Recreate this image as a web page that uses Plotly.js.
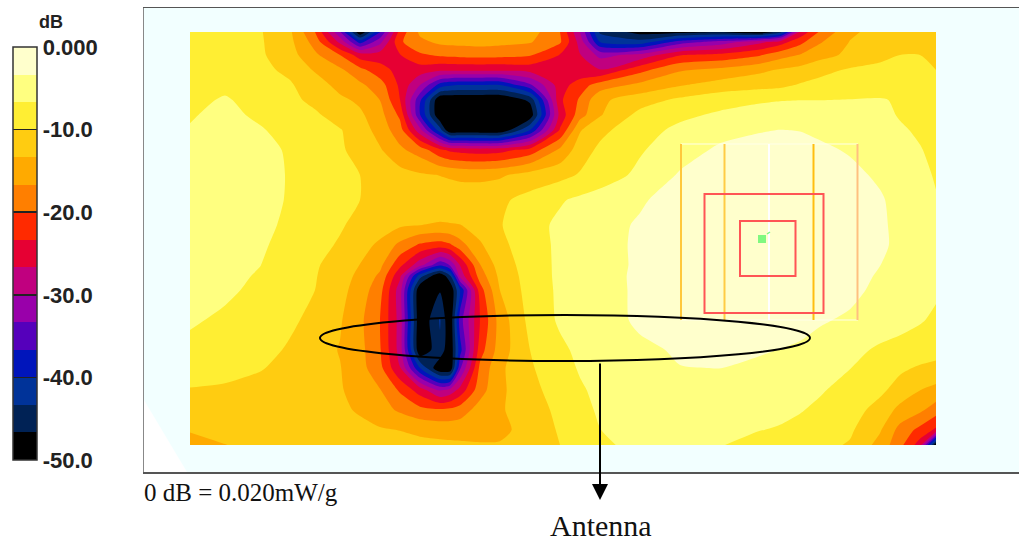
<!DOCTYPE html>
<html>
<head>
<meta charset="utf-8">
<script src="https://cdn.plot.ly/plotly-3.0.1.min.js"></script>
<style>html,body{margin:0;padding:0;background:#fff}#chart{width:1019px;height:542px}</style>
</head>
<body>
<div id="chart"></div>
<script>
// Scan positions along the horizontal and vertical directions
const scanX = [190,225,260,290,315,340,360,380,400,420,440,450,460,480,500,530,560,580,600,640,680,720,760,780,800,820,850,880,900,920,936];
const scanY = [32,42,55,70,85,100,115,130,150,175,200,225,245,265,276,290,320,350,368,390,410,430,445];

// Field values in dB, one list per scan row
const row32  = [-8,-8.5,-9.7,-12.8,-20,-33,-50,-37,-22,-16,-15,-14.7,-14.5,-14,-14.5,-15,-20,-30,-44,-48,-48,-47,-50,-45,-26,-19.5,-14,-12,-11.5,-11.5,-12];
const row42  = [-8,-8.5,-9.6,-12.5,-18,-27.5,-38,-31,-20.5,-17.5,-16,-15.8,-15.7,-15.5,-15.8,-16.4,-19.5,-28,-40,-42,-35,-32,-27.5,-25,-21,-17,-13.2,-11.8,-11,-11,-11.5];
const row55  = [-8.2,-8.6,-9.5,-12,-16,-20,-25,-25,-23.5,-20.5,-19.5,-19.2,-19,-18.8,-19,-19.7,-23.5,-26.5,-31,-29,-23.5,-22.5,-20.3,-18,-16.5,-14.5,-12.6,-10.8,-10,-10,-10.4];
const row70  = [-8.3,-8.6,-9.3,-10.6,-13.7,-16,-19,-22,-24.5,-25,-26,-26,-26,-26,-26,-25.5,-25,-26,-26.5,-21,-17,-15.8,-14,-13,-12.2,-11,-9.6,-9.2,-9.2,-9.7,-10];
const row85  = [-7.8,-7.5,-8.8,-9.7,-11.6,-14.5,-16,-18.5,-24,-30,-38,-39.5,-40,-40,-40,-34,-25,-21.5,-18.5,-15.8,-13.6,-12,-11.2,-10.8,-9.7,-8.9,-8,-7.8,-8,-8.6,-9.2];
const row100 = [-7.6,-6.3,-8,-9.2,-10.8,-12.6,-14,-16.7,-23.3,-36,-50,-50,-50,-50,-50,-46,-24,-19.5,-14,-11.5,-9.3,-7.8,-7,-6.8,-6.7,-6.7,-6.6,-6.5,-6.9,-7.7,-8.4];
const row115 = [-7,-5.6,-7.4,-8.7,-9.5,-11.4,-12.7,-15.5,-20.7,-36.5,-50,-50,-50,-50,-50,-49,-25.5,-18,-13.6,-9,-7.3,-6.2,-5.6,-5.2,-5,-5.1,-5.5,-5.8,-6.9,-7.8,-8.4];
const row130 = [-6.4,-5.1,-6.3,-8.1,-8.9,-9.8,-11.6,-14.7,-18.6,-29,-42,-50,-50,-50,-50,-40,-23,-13.6,-10.9,-7.8,-6,-4.4,-3.5,-3.3,-3.4,-3.9,-4.8,-5.5,-6.3,-7.1,-7.8];
const row150 = [-6,-4.8,-5.8,-7,-8.2,-9.6,-11,-13,-16,-18.2,-22.5,-24,-24.5,-25,-24.5,-22,-16,-11.6,-9.3,-7,-4.7,-2.8,-2.4,-2.3,-2.5,-2.8,-3.6,-4.9,-5.6,-6.5,-7.4];
const row175 = [-5.8,-4.6,-5.5,-6.9,-8,-9.2,-10,-11,-12,-12.9,-13.4,-13.7,-14,-14.2,-13.8,-12,-11,-9.7,-8.4,-5.9,-3,-2.2,-1.8,-1.7,-1.8,-2,-2.6,-3.8,-5,-6,-6.9];
const row200 = [-5.6,-4.5,-5.4,-7,-8.2,-9.2,-10,-10.7,-11.2,-11.4,-11.5,-11.5,-11.5,-11.2,-10.6,-8.9,-7,-6,-5.2,-3.7,-2,-1.2,-1,-1,-1,-1.2,-1.8,-3,-4.3,-5.6,-6.5];
const row225 = [-5.6,-4.6,-5.7,-7.4,-8.7,-9.7,-10.8,-11.7,-12.8,-13.3,-13.6,-13.5,-13.4,-11.7,-10.2,-7.9,-6,-5.2,-4.4,-3,-1.6,-0.9,-0.7,-0.7,-0.8,-1,-1.6,-2.9,-4,-5.4,-6.4];
const row245 = [-5.8,-5,-6.2,-7.8,-9.1,-10.3,-12,-14,-17.5,-20.5,-21.5,-20.5,-18,-13.8,-10.8,-8.2,-6,-5.2,-4.3,-2.9,-1.4,-0.7,-0.3,-0.5,-0.7,-1,-1.6,-2.8,-4,-5.2,-6];
const row265 = [-6,-5.5,-6.6,-8.5,-9.6,-11.5,-13.4,-15.8,-22.5,-28.8,-36,-33,-26.5,-16.8,-11.8,-8.4,-6,-5.2,-4.4,-2.9,-1.4,-0.7,-0.5,-0.6,-0.8,-1.1,-1.8,-3.3,-4.2,-5.2,-6];
const row276 = [-5.9,-5.7,-7,-8.7,-9.8,-11.9,-14.1,-17.3,-26,-42,-50,-44,-29,-18.5,-12.5,-8.5,-6,-5.2,-4.4,-2.8,-1.4,-0.8,-0.6,-0.7,-0.9,-1.3,-2.1,-3.7,-4.4,-5.3,-6.1];
const row290 = [-5.8,-6,-7.5,-8.9,-10,-12.3,-14.8,-18.8,-28.5,-50,-47,-50,-40,-21.5,-13.3,-8.6,-6.1,-5.3,-4.5,-2.8,-1.5,-0.9,-0.7,-0.8,-1.1,-1.5,-2.5,-4.1,-4.7,-5.4,-6.2];
const row320 = [-6.2,-7.3,-8.7,-9.4,-10.9,-13,-15.9,-20,-28,-50,-43,-50,-35,-23.3,-15.2,-9,-6.2,-5.4,-4.7,-2.8,-2,-1.5,-1.1,-1.4,-2,-3,-3.8,-4.7,-5.6,-6.4,-7.2];
const row350 = [-7.6,-8.1,-8.9,-10.4,-12,-13.5,-15.6,-19.7,-28,-50,-44,-50,-38,-21.5,-15,-10,-7.3,-6,-5.3,-3.9,-3,-2.7,-3,-3.4,-3.9,-4.5,-5.7,-7.2,-7.7,-8.2,-8.6];
const row368 = [-8.4,-9.1,-9.8,-10.9,-12.3,-13.2,-15.4,-19,-26.5,-40,-50,-50,-34,-19.2,-14,-10.4,-7.8,-6.4,-5.6,-4.5,-3.4,-3.3,-4,-4.4,-4.9,-5.4,-6.6,-8.5,-9.4,-10.4,-11];
const row390 = [-10.2,-10.4,-11,-11.5,-12.3,-13,-14.8,-16.5,-20.5,-25,-30.5,-29,-25.5,-18,-14,-11,-8.5,-7,-6,-5,-4.8,-4.8,-5.2,-5.6,-6,-6.4,-7.6,-9.3,-11.3,-13.3,-14.2];
const row410 = [-10.5,-11,-11.6,-12,-12.6,-12.9,-13.6,-15.3,-17.2,-19,-19.5,-19.2,-18.3,-15.3,-13.7,-11.6,-9.2,-7.7,-6.2,-5.4,-5.4,-5.4,-5.8,-6,-6.5,-7.2,-8.6,-11.2,-14.3,-16,-18.4];
const row430 = [-13.1,-12.3,-12,-12,-12.2,-12.4,-12.7,-13,-13.4,-14,-14.5,-14.6,-14.7,-14.8,-14.3,-11.8,-9.7,-8.2,-6.7,-5.8,-5.9,-6.2,-6.6,-6.9,-7.4,-8,-9.5,-13,-17.8,-21,-24];
const row445 = [-14.5,-13.4,-12.5,-12,-11.9,-12,-12,-12.1,-12.2,-12.5,-12.6,-12.7,-12.8,-13,-13,-11.5,-10,-8.5,-7.1,-6,-6.2,-6.5,-7.8,-8,-8.5,-9.1,-10.3,-14.5,-19,-25,-50];
const fieldRows = [row32,row42,row55,row70,row85,row100,row115,row130,row150,row175,row200,row225,row245,row265,row276,row290,row320,row350,row368,row390,row410,row430,row445];

// Colour bar
const bandColors = ['#000000','#002255','#003399','#0015BB','#5500BB','#9900AA','#C0007F','#E60033','#FF2A00','#FF7F00','#FFAA00','#FFCC11','#FFEE33','#FFFF80','#FFFFCC'];
const barTicks = [0,-10,-20,-30,-40,-50];
const barLabels = ['0.000','-10.0','-20.0','-30.0','-40.0','-50.0'];

const W = 875, H = 464, L = 144, T = 8;
const px = v => (v - L) / W;
const py = v => (T + H - v) / H;

const stops = bandColors.map((c, i) => [i / (bandColors.length - 1), c]);
const step = 10 / 3;

const trace = {
  type: 'contour', x: scanX, y: scanY, z: fieldRows,
  zmin: -50, zmax: 0, zauto: false,
  colorscale: stops, autocontour: false,
  contours: {start: -50 + step, end: -step + 1e-6, size: step, coloring: 'fill', showlines: false},
  line: {width: 0, smoothing: 0.7},
  hoverinfo: 'skip',
  colorbar: {
    x: px(13), xanchor: 'left', xpad: 0,
    y: py(460), yanchor: 'bottom', ypad: 0,
    thickness: 24, thicknessmode: 'pixels',
    len: 413, lenmode: 'pixels',
    outlinewidth: 1.5, outlinecolor: '#333', borderwidth: 0,
    tickmode: 'array', tickvals: barTicks, ticktext: barLabels,
    ticks: 'inside', ticklen: 24, tickwidth: 1.5, tickcolor: '#222',
    ticklabelposition: 'outside',
    tickfont: {family: '"Liberation Sans", Arial, sans-serif', size: 22, color: '#222', weight: 700}
  }
};

const line = (x0, y0, x1, y1, color, width) => ({type: 'line', xref: 'x', yref: 'y', x0, y0, x1, y1, line: {color, width}, layer: 'above'});
const rect = (x0, y0, x1, y1, color, width) => ({type: 'rect', xref: 'x', yref: 'y', x0, y0, x1, y1, line: {color, width}, layer: 'above'});

const shapes = [
  {type: 'path', xref: 'x', yref: 'y', path: 'M 144 400 L 187 472 L 144 472 Z', fillcolor: '#ffffff', line: {width: 0}, layer: 'below'},
  line(681, 144, 858, 144, '#FFFFE8', 1.2),
  line(681, 320, 858, 320, '#FFFFE8', 1.2),
  line(681, 144, 681, 320, '#FFC83C', 2),
  line(724.5, 144, 724.5, 320, '#FFCC44', 2),
  line(769, 144, 769, 320, '#FFFFFF', 2),
  line(813.5, 144, 813.5, 320, '#FFBE10', 2),
  line(857.5, 144, 857.5, 320, '#FFC080', 2),
  rect(704.5, 194, 823.5, 313, '#FF5555', 2),
  rect(740, 221, 795.5, 276, '#FF5555', 2),
  {type: 'rect', xref: 'x', yref: 'y', x0: 758, y0: 235, x1: 766, y1: 243, fillcolor: '#80F880', line: {width: 0}, layer: 'above'},
  line(767, 234, 770, 232, '#80F880', 1.5),
  {type: 'circle', xref: 'x', yref: 'y', x0: 320, y0: 315, x1: 810, y1: 361, line: {color: '#000', width: 2}, layer: 'above'}
];

const serif = '"Liberation Serif", "Times New Roman", serif';
const annotations = [
  {xref: 'paper', yref: 'paper', x: px(51), y: py(22), text: '<b>dB</b>', showarrow: false, xanchor: 'center', yanchor: 'middle',
   font: {family: '"Liberation Sans", Arial, sans-serif', size: 18, color: '#222'}},
  {xref: 'paper', yref: 'paper', x: px(144), y: py(492), text: '0 dB = 0.020mW/g', showarrow: false, xanchor: 'left', yanchor: 'middle', xshift: -2,
   font: {family: serif, size: 25, color: '#111'}},
  {xref: 'paper', yref: 'paper', x: px(601), y: py(525), text: 'Antenna', showarrow: false, xanchor: 'center', yanchor: 'middle',
   font: {family: serif, size: 30, color: '#111'}},
  {xref: 'x', yref: 'y', axref: 'x', ayref: 'y', x: 600, y: 500, ax: 600, ay: 362, text: '', showarrow: true,
   arrowhead: 2, arrowsize: 1.6, arrowwidth: 2, arrowcolor: '#000'}
];

const axisBase = {showgrid: false, zeroline: false, showticklabels: false, ticks: '', fixedrange: true};
const layout = {
  width: 1019, height: 542,
  margin: {l: L, r: 0, t: T, b: 542 - T - H, autoexpand: false},
  paper_bgcolor: '#ffffff', plot_bgcolor: '#F2FFFF',
  showlegend: false,
  xaxis: Object.assign({}, axisBase, {range: [L, L + W], showline: true, linecolor: '#555', linewidth: 1.5, mirror: true}),
  yaxis: Object.assign({}, axisBase, {range: [T + H, T], showline: true, linecolor: '#888', linewidth: 1.5}),
  shapes, annotations
};
Plotly.newPlot('chart', [trace], layout, {displayModeBar: false, staticPlot: true});
</script>
</body>
</html>
